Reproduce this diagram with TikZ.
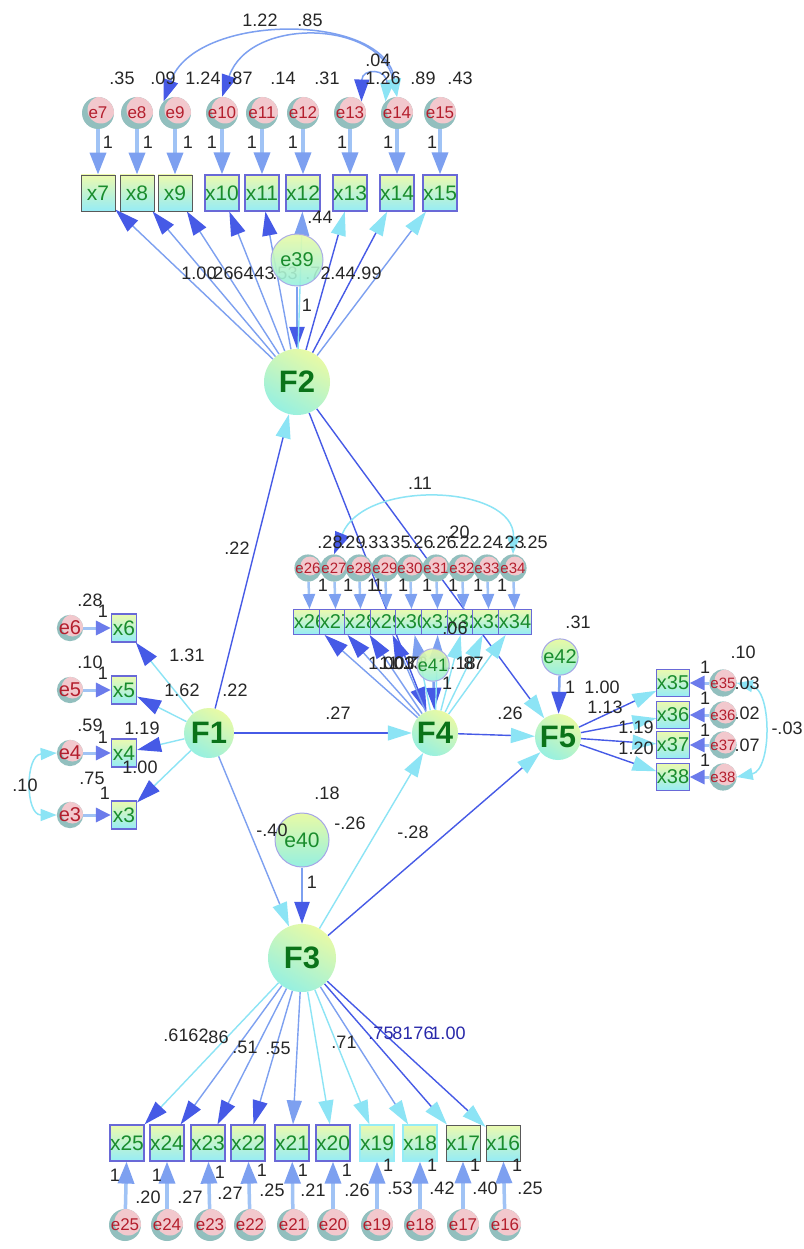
\documentclass[tikz,border=0pt]{standalone}
\usepackage{fontspec}
\setmainfont{Liberation Sans}
\usetikzlibrary{arrows.meta}
\pgfdeclarelayer{bg}
\pgfsetlayers{bg,main}
\definecolor{boxtop}{RGB}{235,250,175}
\definecolor{boxbot}{RGB}{150,236,246}
\definecolor{boxline}{RGB}{105,105,215}
\definecolor{xtext}{RGB}{25,140,45}
\definecolor{etext}{RGB}{180,30,45}
\definecolor{epink}{RGB}{242,200,205}
\definecolor{eteal}{RGB}{110,170,168}
\definecolor{ftext}{RGB}{10,115,25}
\definecolor{fyel}{RGB}{232,250,165}
\definecolor{fcyan}{RGB}{150,240,225}
\definecolor{dblue}{RGB}{70,90,230}
\definecolor{mblue}{RGB}{125,160,240}
\definecolor{lblue}{RGB}{160,195,245}
\definecolor{lcyan}{RGB}{140,228,245}
\definecolor{navy}{RGB}{40,40,170}
\begin{document}
\begin{tikzpicture}[x=1pt,y=-1pt,
  obs/.style={rectangle, draw=boxline, line width=1.2pt, top color=boxtop, bottom color=boxbot, minimum width=34pt, minimum height=36pt, inner sep=0pt, text=xtext, font=\fontsize{21}{21}\selectfont},
  obsd/.style={obs, draw=black!65, line width=0.8pt},
  obsn/.style={obs, draw=boxbot},
  obsm/.style={obs, minimum width=25pt, minimum height=28pt, font=\fontsize{21}{21}\selectfont},
  obss/.style={obs, minimum width=23pt, minimum height=25pt, line width=0.9pt, font=\fontsize{20}{20}\selectfont},
  errbase/.style 2 args={circle, draw=none, fill=eteal!75!white, inner sep=0pt, text=etext,
     path picture={\fill[epink] ([shift={(#2,-#2)}]path picture bounding box.center) circle (#1pt);}},
  err/.style={errbase={13.5}{3}, minimum size=32pt, font=\fontsize{17}{17}\selectfont},
  errm/.style={errbase={11}{2.5}, minimum size=26pt, font=\fontsize{20}{20}\selectfont},
  errs/.style={errbase={9.5}{2}, minimum size=22pt, font=\fontsize{15}{15}\selectfont},
  errf/.style={errbase={11}{2.5}, minimum size=26pt, font=\fontsize{15}{15}\selectfont},
  lat/.style={circle, draw=none, top color=fyel, bottom color=fcyan, shading angle=-30, inner sep=0pt, text=ftext, font=\bfseries\fontsize{31}{31}\selectfont},
  dist/.style={circle, draw=boxline!60, line width=1pt, top color=fyel, bottom color=fcyan, inner sep=0pt, text=xtext, font=\fontsize{20}{20}\selectfont},
  lab/.style={inner sep=0pt, text=black!85, font=\fontsize{18}{18}\selectfont},
  labn/.style={lab, text=navy},
  ar/.style 2 args={draw=#1, line width=1.4pt, -{Triangle[length=24pt,width=15pt,color=#2,fill=#2]}},
  ea/.style={draw=lblue, line width=3.5pt, -{Triangle[length=22pt,width=16pt,color=mblue,fill=mblue]}},
  eas/.style={draw=lblue, line width=3pt, -{Triangle[length=15pt,width=14pt,color=dblue!80,fill=dblue!80]}},
  eat/.style={draw=lblue, line width=2.5pt, -{Triangle[length=15pt,width=12pt,color=mblue,fill=mblue]}},
  dar/.style={draw=mblue, line width=2.5pt, -{Triangle[length=22pt,width=15pt,color=dblue,fill=dblue]}},
  cov/.style={draw=mblue, line width=1.5pt, {Triangle[length=18pt,width=13pt,color=lcyan,fill=lcyan]}-{Triangle[length=22pt,width=15pt,color=dblue,fill=dblue]}},
  covl/.style={draw=lcyan, line width=1.5pt, {Triangle[length=16pt,width=12pt,color=lcyan,fill=lcyan]}-{Triangle[length=16pt,width=12pt,color=lcyan,fill=lcyan]}}
]
\useasboundingbox (0,0) rectangle (803,1249);
\begin{pgfonlayer}{bg}
\fill[white] (0,0) rectangle (803,1249);
\end{pgfonlayer}

% ---------- latent variables ----------
\node[lat, minimum size=66pt] (F2) at (297,382) {F2};
\node[lat, minimum size=50pt] (F1) at (209,733) {F1};
\node[lat, minimum size=46pt] (F4) at (435,733) {F4};
\node[lat, minimum size=46pt] (F5) at (558,737) {F5};
\node[lat, minimum size=68pt] (F3) at (302,958) {F3};

% ---------- F2 block (top) ----------
\foreach \i/\x/\s in {7/98/obsd,8/137/obsd,9/175/obsd,10/222/obs,11/262/obs,12/303/obs,13/350/obs,14/397/obs,15/440/obs}{
  \node[err] (e\i) at (\x,113) {e\i};
  \node[\s] (x\i) at (\x,193) {x\i};
}
\foreach \i/\x in {7/108,8/148,9/188,10/212,11/252,12/293,13/342,14/388,15/432}
  \node[lab] (o\i) at (\x,142) {1};
\foreach \i/\x/\t in {7/122/.35,8/163/.09,9/203/1.24,10/240/.87,11/283/.14,12/327/.31,13/383/1.26,14/423/.89,15/460/.43}
  \node[lab] (v\i) at (\x,78) {\t};
\node[lab] (c1) at (260,20) {1.22};
\node[lab] (c2) at (310,20) {.85};
\node[lab] (c3) at (378,60) {.04};
% loading labels
\foreach \n/\x/\t in {a/199/1.00,b/221/.26,c/241/.64,d/262/.43,e/285/.53,f/318/.72,g/343/.44,h/369/.99}
  \node[lab] (lf2\n) at (\x,273) {\t};
\node[dist, minimum size=52pt, opacity=0.9, text opacity=1] (e39) at (297,260) {e39};
\node[lab] (v39) at (320,217) {.44};
\node[lab] (o39) at (307,305) {1};

% ---------- F1 block ----------
\foreach \i/\y in {6/628,5/690,4/753,3/815}{
  \node[errm] (e\i) at (70,\y) {e\i};
  \node[obsm] (x\i) at (124,\y) {x\i};
}
\node[lab] (v6) at (90,600) {.28}; \node[lab] (o6) at (103,611) {1};
\node[lab] (v5) at (90,662) {.10}; \node[lab] (o5) at (103,673) {1};
\node[lab] (v4) at (90,725) {.59}; \node[lab] (o4) at (103,737) {1};
\node[lab] (v3) at (92,778) {.75}; \node[lab] (o3) at (105,793) {1};
\node[lab] (c43) at (25,785) {.10};
\node[lab] (l16) at (187,655) {1.31};
\node[lab] (l15) at (182,690) {1.62};
\node[lab] (l14) at (142,728) {1.19};
\node[lab] (l13) at (140,767) {1.00};
\node[lab] (vF1) at (235,690) {.22};
\node[lab] (p12) at (237,548) {.22};

% ---------- F4 block ----------
\foreach \i/\x in {26/308,27/334,28/359,29/385,30/410,31/436,32/462,33/487,34/513}{
  \node[errs] (e\i) at (\x,568) {e\i};
}
\foreach \i/\x/\s in {26/310/obsd,27/336/obsd,28/361/obsd,29/387/obss,30/412/obss,31/438/obss,32/464/obss,33/489/obss,34/515/obss}{
  \node[obss] (x\i) at (\x,622) {x\i};
}
\foreach \n/\x/\t in {a/330/.28,b/353/.29,c/376/.33,d/398/.35,e/421/.26,f/444/.26,g/467/.22,h/490/.24,i/512/.23,j/535/.25}
  \node[lab] (v4\n) at (\x,542) {\t};
\foreach \n/\x in {a/323,b/348,c/372,d/378,e/403,f/427,g/453,h/478,i/502}
  \node[lab] (o4\n) at (\x,585) {1};
\node[lab] (c20) at (457,532) {.20};
\node[lab] (p11) at (420,483) {.11};
\foreach \n/\x/\t in {a/386/1.00,b/397/1.03,c/406/1.13,d/415/.73,e/458/1.18,f/471/.87}
  \node[lab] (lf4\n) at (\x,663) {\t};
\node[dist, minimum size=30pt, font=\fontsize{18}{18}\selectfont, opacity=0.9, text opacity=1] (e41) at (433,665) {e41};
\node[lab] (v41) at (455,628) {.06};
\node[lab] (o41) at (447,683) {1};

% ---------- F5 block ----------
\node[dist, minimum size=36pt] (e42) at (560,657) {e42};
\node[lab] (v42) at (578,622) {.31};
\node[lab] (o42) at (570,687) {1};
\foreach \i/\y in {35/683,36/715,37/745,38/777}{
  \node[obss, minimum height=27pt] (x\i) at (673,\y) {x\i};
  \node[errf] (e\i) at (723,\y) {e\i};
}
\node[lab] (l535) at (602,687) {1.00};
\node[lab] (l536) at (605,707) {1.13};
\node[lab] (l537) at (636,727) {1.19};
\node[lab] (l538) at (636,748) {1.20};
\node[lab] (o35) at (705,667) {1};
\node[lab] (o36) at (705,698) {1};
\node[lab] (o37) at (705,730) {1};
\node[lab] (o38) at (705,760) {1};
\node[lab] (v35a) at (743,652) {.10};
\node[lab] (v35) at (747,683) {.03};
\node[lab] (v36) at (747,713) {.02};
\node[lab] (v37) at (747,745) {.07};
\node[lab] (c3538) at (787,728) {-.03};
\node[lab] (p45) at (510,713) {.26};
\node[lab] (p14) at (338,713) {.27};

% ---------- F3 block ----------
\node[dist, minimum size=54pt, font=\fontsize{21}{21}\selectfont] (e40) at (302,840) {e40};
\node[lab] (v40) at (327,793) {.18};
\node[lab] (p13) at (272,830) {-.40};
\node[lab] (p34) at (350,823) {-.26};
\node[lab] (p35) at (413,832) {-.28};
\node[lab] (o40) at (312,882) {1};
\foreach \i/\x/\ex/\s in {25/127/125/obs,24/167/167/obs,23/208/210/obs,22/248/250/obs,21/292/293/obs,20/333/333/obs,19/377/377/obsn,18/420/420/obsn,17/463/463/obsd,16/503/505/obsd}{
  \node[\s] (x\i) at (\x,1143) {x\i};
  \node[err] (e\i) at (\ex,1225) {e\i};
}
\foreach \n/\x/\y/\t in {a/176/1035/.61,b/196/1035/.62,c/216/1037/.86,d/245/1047/.51,e/278/1048/.55,f/344/1042/.71}
  \node[lab] (lf3\n) at (\x,\y) {\t};
\foreach \n/\x/\t in {g/381/.75,h/400/.81,i/421/.76,j/448/1.00}
  \node[labn] (lf3\n) at (\x,1033) {\t};
\foreach \n/\x/\y/\t in {a/115/1175/1,b/148/1197/.20,c/157/1175/1,d/190/1197/.27,e/220/1172/1,f/230/1193/.27,g/262/1170/1,h/272/1190/.25,i/303/1170/1,j/313/1190/.21,k/347/1170/1,l/357/1190/.26,m/388/1165/1,n/400/1188/.53,o/432/1165/1,p/442/1188/.42,q/475/1165/1,r/485/1188/.40,s/517/1165/1,t/530/1188/.25}
  \node[lab] (b\n) at (\x,\y) {\t};

% ---------- connectors ----------
\begin{pgfonlayer}{bg}
% structural paths
\draw[ar={dblue}{lcyan}] (F1) -- (F2);
\draw[ar={dblue}{lcyan}] (F1) -- (F4);
\draw[ar={mblue}{lcyan}] (F1) -- (F3);
\draw[ar={dblue}{dblue}] (F2) -- (F4);
\draw[ar={dblue}{lcyan}] (F2) -- (F5);
\draw[ar={lcyan}{lcyan}] (F3) -- (F4);
\draw[ar={dblue}{lcyan}] (F3) -- (F5);
\draw[ar={dblue}{lcyan}] (F4) -- (F5);
% disturbances
\draw[dar] (e39) -- (F2);
\draw[dar] (e40) -- (F3);
\draw[dar] (e41) -- (F4);
\draw[dar] (e42) -- (F5);
% F2 loadings
\foreach \i/\l/\h in {7/mblue/dblue,8/mblue/dblue,9/mblue/dblue,10/mblue/dblue,11/mblue/dblue,12/lcyan/mblue,13/dblue/lcyan,14/dblue/lcyan,15/mblue/lcyan}
  \draw[ar={\l}{\h}] (F2) -- (x\i);
\foreach \i in {7,...,15} \draw[ea] (e\i) -- (x\i);
\draw[cov] (e14.north) .. controls (385,12) and (195,12) .. (e9.north west);
\draw[cov] (e14.north) .. controls (380,20) and (250,16) .. (e10.north);
\draw[cov] (e14.north west) .. controls (388,68) and (362,68) .. (e13.north east);
% F1 loadings
\foreach \i in {6,5,4,3} {
  \draw[ar={lcyan}{dblue}] (F1) -- (x\i);
  \draw[eas] (e\i) -- (x\i);
}
\draw[covl] (e4.west) .. controls (25,755) and (25,815) .. (e3.west);
% F4 loadings
\foreach \i/\l/\h in {26/mblue/dblue,27/mblue/dblue,28/mblue/dblue,29/mblue/dblue,30/lcyan/mblue,31/lcyan/mblue,32/lcyan/lcyan,33/lcyan/lcyan,34/lcyan/lcyan}{
  \draw[ar={\l}{\h}] (F4) -- (x\i);
  \draw[eat] (e\i) -- (x\i);
}
\draw[cov, draw=lcyan] (e34.north) .. controls (515,485) and (365,478) .. (e27.north);
% F5 loadings
\foreach \i in {35,...,38} {
  \draw[ar={dblue}{lcyan}] (F5) -- (x\i);
  \draw[eas] (e\i) -- (x\i);
}
\draw[covl] (e35.east) .. controls (772,690) and (772,770) .. (e38.east);
% F3 loadings
\foreach \i/\l/\h in {25/lcyan/dblue,24/mblue/dblue,23/mblue/dblue,22/mblue/dblue,21/mblue/mblue,20/lcyan/lcyan,19/lcyan/lcyan,18/mblue/lcyan,17/dblue/lcyan,16/dblue/lcyan}{
  \draw[ar={\l}{\h}] (F3) -- (x\i);
  \draw[ea] (e\i) -- (x\i);
}
\end{pgfonlayer}
\end{tikzpicture}
\end{document}
